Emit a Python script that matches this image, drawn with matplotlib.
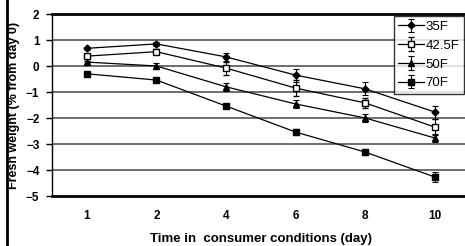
import matplotlib
matplotlib.use("Agg")
import matplotlib.pyplot as plt
from matplotlib.lines import Line2D

days = ["1", "2", "4", "6", "8", "10"]
s35 = [0.68, 0.85, 0.35, -0.35, -0.88, -1.77]
e35 = [0.05, 0.08, 0.15, 0.25, 0.25, 0.25]
s42 = [0.38, 0.55, -0.08, -0.85, -1.42, -2.35]
e42 = [0.1, 0.1, 0.25, 0.3, 0.2, 0.3]
s50 = [0.15, 0.0, -0.8, -1.46, -2.0, -2.77]
e50 = [0.05, 0.12, 0.15, 0.15, 0.15, 0.15]
s70 = [-0.3, -0.54, -1.54, -2.54, -3.31, -4.27]
e70 = [0.05, 0.05, 0.08, 0.1, 0.12, 0.2]
labels = ["35F", "42.5F", "50F", "70F"]

plt.rcParams['font.family'] = ['Liberation Sans', 'DejaVu Sans']

fig = plt.figure(figsize=(4.65, 2.46), dpi=100)
ax = fig.add_axes([52/465, 1-196/246, 417.6/465, 182/246])

x = list(range(len(days)))
series = [
    (s35, e35, dict(marker='D', markersize=3.5, mfc='black', mec='black')),
    (s42, e42, dict(marker='s', markersize=5, mfc='white', mec='black', mew=1)),
    (s50, e50, dict(marker='^', markersize=4, mfc='black', mec='black')),
    (s70, e70, dict(marker='s', markersize=5, mfc='black', mec='black')),
]
for (vals, errs, st), lab in zip(series, labels):
    ax.errorbar(x, vals, yerr=errs, color='black', lw=0.9, capsize=2,
                elinewidth=0.8, capthick=0.8, label=lab, zorder=3, **st)

ax.set_xlim(-0.5, 5.5)
ax.set_ylim(-5, 2)
ax.set_yticks(range(-5, 3))
ax.set_xticks(x)
ax.set_xticklabels(days)
ax.tick_params(axis='x', length=0, pad=10)
ax.tick_params(axis='y', length=4, width=1, pad=5)
for lbl in ax.get_xticklabels() + ax.get_yticklabels():
    lbl.set_fontweight('bold')
    lbl.set_fontsize(8.5)

for yv in [-4, -3, -2, -1, 0, 1]:
    ax.axhline(yv, color='#555555', lw=1.2, zorder=1)

ax.spines['right'].set_visible(False)
ax.spines['top'].set_linewidth(2)
ax.spines['bottom'].set_linewidth(2)
ax.spines['left'].set_linewidth(1)
for s in ax.spines.values():
    s.set_color('black')

ax.set_xlabel("Time in  consumer conditions (day)", fontsize=9.5, fontweight='bold', labelpad=8)
ax.set_ylabel("Fresh weight (% from day 0)", fontsize=9, fontweight='bold', labelpad=4)

leg = ax.legend(loc='upper right', bbox_to_anchor=(464/465, 1-16/246),
                bbox_transform=fig.transFigure, fontsize=9.5, frameon=True,
                fancybox=False, edgecolor='black', handlelength=1.9,
                handletextpad=0.15, borderpad=0.35, labelspacing=0.5,
                borderaxespad=0)
leg.get_frame().set_linewidth(1)

fig.add_artist(Line2D([7/465, 7/465], [0, 1], transform=fig.transFigure,
                      color='black', lw=2))

fig.savefig("out.png", dpi=100)
